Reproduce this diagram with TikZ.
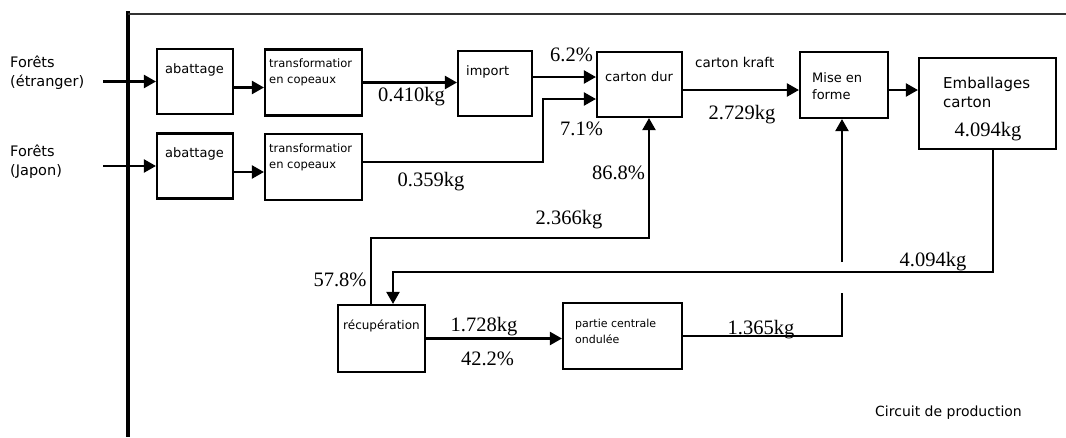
\documentclass[tikz,border=0pt]{standalone}
\usepackage{fontspec}
\setmainfont{Liberation Serif}
\setsansfont{DejaVu Sans}
\usetikzlibrary{arrows.meta}
\tikzset{
  % boxes of the circuit, drawn empty; their texts are set apart
  circ/box/.style={draw=black, line width=2.1pt, fill=white, inner sep=0pt},
  % box texts, anchored at the top left of the box
  circ/txt/.style={font=\sffamily\fontsize{13}{17}\selectfont, anchor=west,
    align=left, inner sep=0pt},
  circ/small/.style={circ/txt, font=\sffamily\fontsize{11.5}{16}\selectfont},
  % masses and shares along the flows
  circ/num/.style={font=\fontsize{20.5}{22}\selectfont, inner sep=0pt},
  % flows
  circ/flow/.style={-{Triangle[length=12pt,width=13pt]}, line width=2.1pt, draw=black},
  circ/line/.style={line width=2.1pt, draw=black},
}

\begin{document}
\begin{tikzpicture}[x=1pt, y=-1pt]
\useasboundingbox (0,0) rectangle (1066,437);

% frame
\draw[line width=4pt] (128,11) -- (128,437);
\draw[line width=2.4pt, draw=black!80] (128,14) -- (1066,14);

% sources
\node[circ/txt, font=\sffamily\fontsize{14.5}{19}\selectfont] (fe) at (10,72.5) {Forêts\\(étranger)};
\node[circ/txt, font=\sffamily\fontsize{14.5}{19}\selectfont] (fj) at (10,162) {Forêts\\(Japon)};
\coordinate (se0) at (103,81.5);
\coordinate (se1) at (103,166);

\foreach \i/\y in {0/81.5,1/166}{
  \node[circ/box, minimum width=76pt, minimum height=65pt] (ab\i) at (195,\y) {};
  \node[circ/txt] (abt\i) at (165,\y-12) {abattage};
  \node[circ/box, minimum width=97pt, minimum height=66pt] (tr\i) at (313.5,\y+1) {};
  \node[circ/small] (trt\i) at (269,\y-9) {transformatior\\en copeaux};
  \draw[circ/flow] (se\i) -- (ab\i);
  \draw[circ/flow] ([yshift=-6pt]ab\i.east) -- ([yshift=-6pt]ab\i.east -| tr\i.west);
}

% main line
\node[circ/box, minimum width=74pt, minimum height=65pt] (imp) at (495,83.5) {};
\node[circ/txt] (impt) at (466,72) {import};
\node[circ/box, minimum width=85pt, minimum height=65pt] (cd) at (639.5,84.5) {};
\node[circ/txt] (cdt) at (605,77) {carton dur};
\node[circ/box, minimum width=88pt, minimum height=66pt] (ms) at (844,85) {};
\node[circ/txt] (mst) at (812,86.5) {Mise en\\forme};
\node[circ/box, minimum width=137pt, minimum height=91pt] (emb) at (987.5,103.5) {};
\node[circ/txt, font=\sffamily\fontsize{15}{19}\selectfont] (embt) at (943,92.5) {Emballages\\carton};
\node[circ/num] (embn) at (988,132) {4.094kg};

% recycling
\node[circ/box, minimum width=87pt, minimum height=67pt] (rc) at (381.5,338.5) {};
\node[circ/small, font=\sffamily\fontsize{12}{16}\selectfont] (rct) at (343,326) {récupération};
\node[circ/box, minimum width=119pt, minimum height=66pt] (pc) at (622.5,336) {};
\node[circ/small, font=\sffamily\fontsize{11}{16}\selectfont] (pct) at (575,331) {partie centrale\\ondulée};

\coordinate (k1) at (543,99);
\coordinate (k2) at (393,272);
\coordinate (k3) at (649,238);
\coordinate (j1) at (842,293);
\coordinate (j2) at (842,262);

\draw[circ/flow] (tr0.east) -- (tr0.east -| imp.west);
\draw[circ/flow] ([yshift=6.5pt]imp.east) -- ([yshift=6.5pt]imp.east -| cd.west);
\draw[circ/flow] ([yshift=5pt]tr1.east) -| (k1) -- (k1 -| cd.west);
\draw[circ/flow] ([yshift=-5.5pt]cd.east) -- ([yshift=-5.5pt]cd.east -| ms.west);
\draw[circ/flow] ([yshift=-5pt]ms.east) -- ([yshift=-5pt]ms.east -| emb.west);
\draw[circ/flow] ([xshift=5.5pt]emb.south) |- (k2) -- (k2 |- rc.north);
\draw[circ/flow] ([xshift=-10.5pt]rc.north) |- (k3) -- (k3 |- cd.south);
\draw[circ/flow] (rc.east) -- (rc.east -| pc.west);
\draw[circ/line] (pc.east) -| (j1);
\draw[circ/flow] (j2) -- (j2 |- ms.south);

% values on the flows
\node[circ/num] (n1) at (411.5,97) {0.410kg};
\node[circ/num] (n2) at (431,182) {0.359kg};
\node[circ/num] (p1) at (571.5,55) {6.2\%};
\node[circ/num] (p2) at (581.5,129) {7.1\%};
\node[circ/txt, font=\sffamily\fontsize{13.5}{17}\selectfont] (kraft) at (695,62) {carton kraft};
\node[circ/num] (n3) at (742,115) {2.729kg};
\node[circ/num] (n4) at (933,262) {4.094kg};
\node[circ/num] (p3) at (618.5,173) {86.8\%};
\node[circ/num] (n5) at (569,220) {2.366kg};
\node[circ/num] (p4) at (340,280) {57.8\%};
\node[circ/num] (n6) at (484,327) {1.728kg};
\node[circ/num] (p5) at (487.5,359) {42.2\%};
\node[circ/num] (n7) at (761,330) {1.365kg};

\node[circ/txt, font=\sffamily\fontsize{14}{17}\selectfont] (cap) at (875,413) {Circuit de production};
\end{tikzpicture}
\end{document}
